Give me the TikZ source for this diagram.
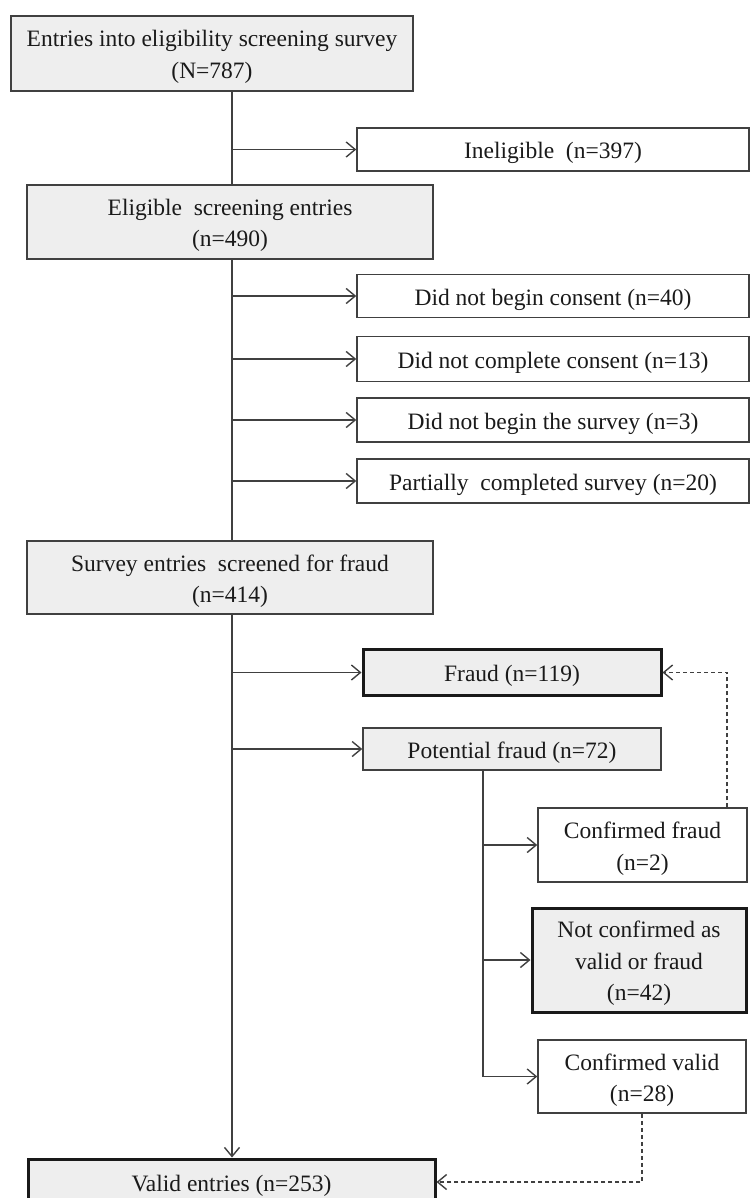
\documentclass[tikz,border=0pt]{standalone}
\usepackage{fontspec}
\setmainfont{Liberation Serif}
\usetikzlibrary{arrows.meta}
\definecolor{boxfill}{HTML}{EEEEEE}
\definecolor{linec}{HTML}{404040}
\definecolor{textc}{HTML}{1A1A1A}
\begin{document}
\begin{tikzpicture}[x=1pt,y=-1pt,
  lbl/.style={font=\fontsize{23.5}{31.5}\selectfont, text=textc, align=center, inner sep=0pt, yshift=-3.5pt},
  boxbase/.style={draw=linec, line width=1.5pt, rectangle, inner sep=0pt},
  graybox/.style={boxbase, fill=boxfill},
  whitebox/.style={boxbase, fill=white},
  thickbox/.style={draw=black!90, line width=3pt, fill=boxfill, rectangle, inner sep=0pt},
  txt/.style={label={[lbl]center:{#1}}},
  conn/.style={draw=linec, line width=1.5pt, -{Straight Barb[length=9pt,width=15pt,line width=1.4pt]}},
  plain/.style={draw=linec, line width=1.5pt},
  dconn/.style={draw=linec, line width=1.4pt, dash pattern=on 4pt off 3pt, -{Straight Barb[length=9pt,width=15pt,line width=1.4pt]}}
]
\useasboundingbox (0,0) rectangle (751,1198);
\clip (0,0) rectangle (751,1198);

\coordinate (sp) at (232,0);
\coordinate (pp) at (483,0);
\coordinate (dx) at (727,0);

\node[graybox, minimum width=402pt, minimum height=75pt, txt={Entries into eligibility screening survey\\(N=787)}] (b1) at (212,53.5) {};
\node[whitebox, minimum width=392pt, minimum height=43pt, txt={Ineligible \ (n=397)}] (inel) at (553,149.5) {};
\node[graybox, minimum width=406pt, minimum height=74pt, txt={Eligible \ screening entries\\(n=490)}] (b2) at (230,222) {};
\node[whitebox, minimum width=392pt, minimum height=43pt, txt={Did not begin consent (n=40)}] (c1) at (553,296) {};
\node[whitebox, minimum width=392pt, minimum height=45pt, txt={Did not complete consent (n=13)}] (c2) at (553,359) {};
\node[whitebox, minimum width=392pt, minimum height=44pt, txt={Did not begin the survey (n=3)}] (c3) at (553,420) {};
\node[whitebox, minimum width=392pt, minimum height=44pt, txt={Partially \ completed survey (n=20)}] (c4) at (553,481) {};
\node[graybox, minimum width=406pt, minimum height=73pt, txt={Survey entries \ screened for fraud\\(n=414)}] (b3) at (230,577.5) {};
\node[thickbox, minimum width=298pt, minimum height=46pt, txt={Fraud (n=119)}] (fraud) at (512,672.5) {};
\node[graybox, minimum width=298pt, minimum height=42pt, txt={Potential fraud (n=72)}] (pot) at (512,749) {};
\node[whitebox, minimum width=209pt, minimum height=74pt, txt={Confirmed fraud\\(n=2)}] (cf) at (642.5,845) {};
\node[thickbox, minimum width=214pt, minimum height=104pt, txt={Not confirmed as\\valid or fraud\\(n=42)}] (nc) at (639,960) {};
\node[whitebox, minimum width=208pt, minimum height=73pt, txt={Confirmed valid\\(n=28)}] (cv) at (642,1076.5) {};
\node[thickbox, minimum width=407pt, minimum height=46pt, txt={Valid entries (n=253)}] (valid) at (231.5,1182) {};

% spine
\draw[plain] (b1.south -| sp) -- (b2.north -| sp);
\draw[plain] (b2.south -| sp) -- (b3.north -| sp);
\draw[conn] (b3.south -| sp) -- (valid.north -| sp);
\draw[conn] (sp |- inel.west) -- (inel.west);
\draw[conn] (sp |- c1.west) -- (c1.west);
\draw[conn] (sp |- c2.west) -- (c2.west);
\draw[conn] (sp |- c3.west) -- (c3.west);
\draw[conn] (sp |- c4.west) -- (c4.west);
\draw[conn] (sp |- fraud.west) -- (fraud.west);
\draw[conn] (sp |- pot.west) -- (pot.west);

% potential fraud branch
\draw[plain] (pot.south -| pp) -- (pp |- cv.west);
\draw[conn] (pp |- cf.west) -- (cf.west);
\draw[conn] (pp |- nc.west) -- (nc.west);
\draw[conn] (pp |- cv.west) -- (cv.west);

% dashed feedback
\draw[dconn] (cf.north -| dx) |- (fraud.east);
\draw[dconn] (cv.south) |- (valid.east);
\end{tikzpicture}
\end{document}
